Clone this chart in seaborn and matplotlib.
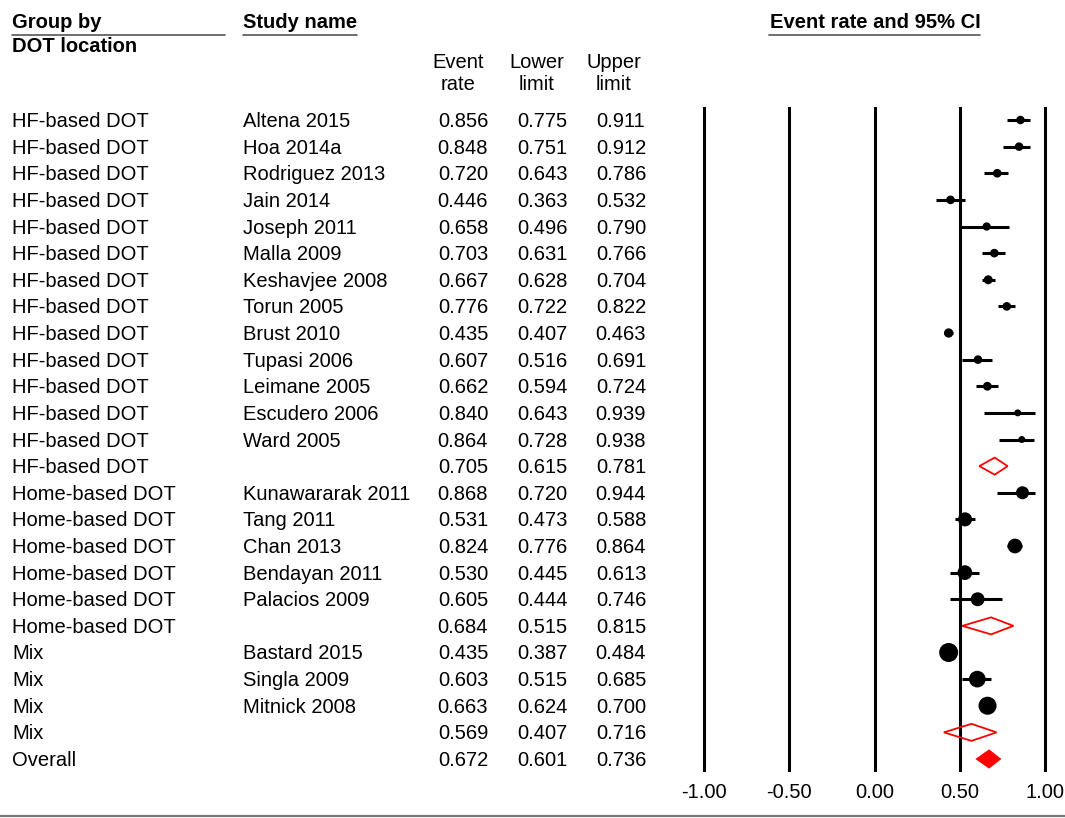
import matplotlib
matplotlib.use("Agg")
import matplotlib.pyplot as plt
import matplotlib.transforms as mtransforms
from matplotlib.patches import Polygon
from matplotlib.lines import Line2D
import seaborn as sns
import pandas as pd

groups = ["HF-based DOT"] * 14 + ["Home-based DOT"] * 6 + ["Mix"] * 4 + ["Overall"]
studies = ["Altena 2015", "Hoa 2014a", "Rodriguez 2013", "Jain 2014", "Joseph 2011",
           "Malla 2009", "Keshavjee 2008", "Torun 2005", "Brust 2010", "Tupasi 2006",
           "Leimane 2005", "Escudero 2006", "Ward 2005", "",
           "Kunawararak 2011", "Tang 2011", "Chan 2013", "Bendayan 2011", "Palacios 2009", "",
           "Bastard 2015", "Singla 2009", "Mitnick 2008", "", ""]
rates = [0.856, 0.848, 0.720, 0.446, 0.658, 0.703, 0.667, 0.776, 0.435, 0.607, 0.662, 0.840, 0.864, 0.705,
         0.868, 0.531, 0.824, 0.530, 0.605, 0.684,
         0.435, 0.603, 0.663, 0.569, 0.672]
lowers = [0.775, 0.751, 0.643, 0.363, 0.496, 0.631, 0.628, 0.722, 0.407, 0.516, 0.594, 0.643, 0.728, 0.615,
          0.720, 0.473, 0.776, 0.445, 0.444, 0.515,
          0.387, 0.515, 0.624, 0.407, 0.601]
uppers = [0.911, 0.912, 0.786, 0.532, 0.790, 0.766, 0.704, 0.822, 0.463, 0.691, 0.724, 0.939, 0.938, 0.781,
          0.944, 0.588, 0.864, 0.613, 0.746, 0.815,
          0.484, 0.685, 0.700, 0.716, 0.736]
# relative study weights (0 = pooled row)
weights = [3.0, 3.0, 3.1, 3.1, 2.8, 3.1, 3.3, 3.1, 3.6, 3.1, 3.2, 2.0, 2.0, 0,
           7.0, 8.2, 9.0, 9.0, 8.0, 0,
           15.0, 11.5, 13.5, 0, 0]
kinds = ["study"] * 13 + ["subgroup"] + ["study"] * 5 + ["subgroup"] + ["study"] * 3 + ["subgroup", "overall"]
ticks = [-1.0, -0.5, 0.0, 0.5, 1.0]

df = pd.DataFrame({"group": groups, "study": studies, "rate": rates, "lower": lowers,
                   "upper": uppers, "weight": weights, "kind": kinds})
df["row"] = range(len(df))

sns.set_theme(style="white")
plt.rcParams["font.family"] = ["Liberation Sans", "DejaVu Sans"]
plt.rcParams["text.color"] = "black"
plt.rcParams["xtick.color"] = "black"
FS = 14.5

W, H = 1065, 818
fig = plt.figure(figsize=(W / 100, H / 100), dpi=100)
# plot panel: -1 -> 704px, 1 -> 1045px, rows 0..24 between 120px and 759px
ax = fig.add_axes([695.5 / W, (H - 772.3) / H, 358 / W, (772.3 - 106.7) / H])

st = df[df.kind == "study"]
ax.hlines(st.row, st.lower, st.upper, color="black", lw=2.2, zorder=2)
k = 12.5
sns.scatterplot(data=st, x="rate", y="row", size="weight",
                sizes=(st.weight.min() * k, st.weight.max() * k),
                color="black", linewidth=0, legend=False, ax=ax, zorder=3)

for _, r in df[df.kind != "study"].iterrows():
    h = 0.32
    pts = [(r.lower, r.row), (r.rate, r.row - h), (r.upper, r.row), (r.rate, r.row + h)]
    filled = r.kind == "overall"
    ax.add_patch(Polygon(pts, closed=True, facecolor="red" if filled else "none",
                         edgecolor="red", lw=1.3, zorder=3))

for t in ticks:
    ax.axvline(t, color="black", lw=2.2, zorder=1)

ax.set_xlim(-1.05, 1.05)
ax.set_ylim(len(df) - 0.5, -0.5)
ax.set_xticks(ticks)
ax.set_xticklabels([f"{t:.2f}" for t in ticks], fontsize=FS, color="black")
ax.set_yticks([])
ax.tick_params(axis="x", length=0, pad=8)
ax.set_xlabel("")
ax.set_ylabel("")
for s in ax.spines.values():
    s.set_visible(False)
ax.patch.set_alpha(0)

# table columns, nudged 1.5px down to match the reference baseline
tr = mtransforms.blended_transform_factory(fig.transFigure, ax.transData)
tr = tr + mtransforms.ScaledTranslation(0, -1.5 / 100, fig.dpi_scale_trans)
for _, r in df.iterrows():
    ax.text(12 / W, r.row, r.group, transform=tr, fontsize=FS, va="center", ha="left", clip_on=False)
    ax.text(243 / W, r.row, r.study, transform=tr, fontsize=FS, va="center", ha="left", clip_on=False)
    ax.text(463 / W, r.row, f"{r.rate:.3f}", transform=tr, fontsize=FS, va="center", ha="center", clip_on=False)
    ax.text(542 / W, r.row, f"{r.lower:.3f}", transform=tr, fontsize=FS, va="center", ha="center", clip_on=False)
    ax.text(621 / W, r.row, f"{r.upper:.3f}", transform=tr, fontsize=FS, va="center", ha="center", clip_on=False)

def fx(px):
    return px / W

def fy(py):
    return 1 - py / H

# headers
fig.text(fx(12), fy(22), "Group by", fontsize=FS, fontweight="bold", va="center", ha="left")
fig.text(fx(12), fy(47), "DOT location", fontsize=FS, fontweight="bold", va="center", ha="left")
fig.text(fx(243), fy(22), "Study name", fontsize=FS, fontweight="bold", va="center", ha="left")
fig.text(fx(875), fy(22), "Event rate and 95% CI", fontsize=FS, fontweight="bold", va="center", ha="center")
for xc, top, bot in [(458, "Event", "rate"), (537, "Lower", "limit"), (614, "Upper", "limit")]:
    fig.text(fx(xc), fy(62), top, fontsize=FS, va="center", ha="center")
    fig.text(fx(xc), fy(85), bot, fontsize=FS, va="center", ha="center")

for x0, x1 in [(12, 225), (243, 357), (769, 980)]:
    fig.add_artist(Line2D([fx(x0), fx(x1)], [fy(35), fy(35)], transform=fig.transFigure,
                          color="#555555", lw=1.2))
fig.add_artist(Line2D([0, 1], [fy(816), fy(816)], transform=fig.transFigure, color="#777777", lw=1.6))

fig.savefig("out.png", dpi=100)
